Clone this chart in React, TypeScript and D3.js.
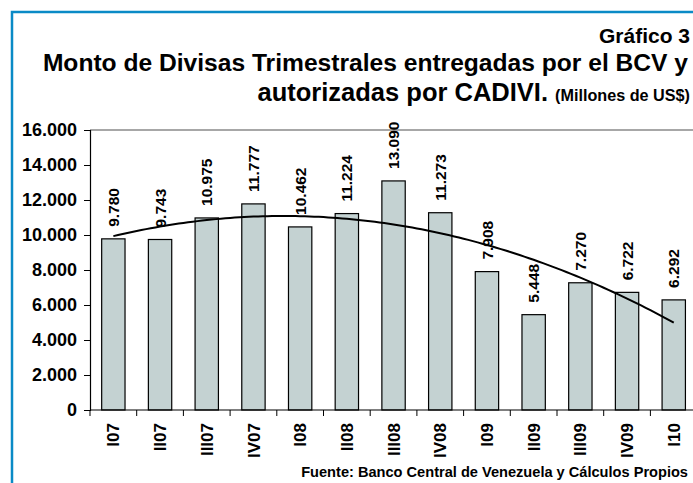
import * as d3 from "d3";
import { useEffect, useRef } from "react";

const quarters = ["I07", "II07", "III07", "IV07", "I08", "II08", "III08", "IV08", "I09", "II09", "III09", "IV09", "I10"];
const montos = [9780, 9743, 10975, 11777, 10462, 11224, 13090, 11273, 7908, 5448, 7270, 6722, 6292];
const yTicks = [0, 2000, 4000, 6000, 8000, 10000, 12000, 14000, 16000];

const FONT = "'Liberation Sans', Arial, Helvetica, sans-serif";

// miles con punto: 9780 -> "9.780"
const fmt = (v: number) => d3.format(",")(v).replace(/,/g, ".");

// tendencia polinomica de grado 2 (minimos cuadrados), como la de Excel
function quadFit(ys: number[]) {
  let s0 = 0, s1 = 0, s2 = 0, s3 = 0, s4 = 0, sy = 0, sxy = 0, sxxy = 0;
  ys.forEach((y, x) => {
    s0 += 1; s1 += x; s2 += x * x; s3 += x * x * x; s4 += x * x * x * x;
    sy += y; sxy += x * y; sxxy += x * x * y;
  });
  const m = [
    [s0, s1, s2, sy],
    [s1, s2, s3, sxy],
    [s2, s3, s4, sxxy],
  ];
  for (let c = 0; c < 3; c++) {
    for (let r = c + 1; r < 3; r++) {
      const f = m[r][c] / m[c][c];
      for (let k = c; k < 4; k++) m[r][k] -= f * m[c][k];
    }
  }
  const coef = [0, 0, 0];
  for (let r = 2; r >= 0; r--) {
    let s = m[r][3];
    for (let k = r + 1; k < 3; k++) s -= m[r][k] * coef[k];
    coef[r] = s / m[r][r];
  }
  return (x: number) => coef[0] + coef[1] * x + coef[2] * x * x;
}

const Chart = () => {
  const ref = useRef<SVGSVGElement>(null);

  useEffect(() => {
    const svg = d3.select(ref.current);
    svg.selectAll("*").remove();

    const left = 90, top = 130, bottom = 410;
    const step = 46.7;
    const right = left + step * quarters.length;

    const xOuter = d3.scaleBand().domain(quarters).range([left, right]);
    const xBar = d3.scaleBand().domain(quarters).range([left, right]).paddingInner(0.5).paddingOuter(0.25);
    const y = d3.scaleLinear().domain([0, 16000]).range([bottom, top]);

    // marco azul
    svg.append("path")
      .attr("d", `M12,483 L12,12 L700,12`)
      .attr("fill", "none")
      .attr("stroke", "#0a8ac6")
      .attr("stroke-width", 2.5);

    // titulos
    svg.append("text")
      .attr("x", 690).attr("y", 43)
      .attr("text-anchor", "end")
      .attr("font-size", 21).attr("font-weight", "bold")
      .text("Gráfico 3");

    svg.append("text")
      .attr("x", 688).attr("y", 71)
      .attr("text-anchor", "end")
      .attr("font-size", 24.6).attr("font-weight", "bold")
      .text("Monto de Divisas Trimestrales entregadas por el BCV y");

    const t2 = svg.append("text")
      .attr("x", 690).attr("y", 101)
      .attr("text-anchor", "end")
      .attr("font-weight", "bold");
    t2.append("tspan").attr("font-size", 25.5).text("autorizadas por CADIVI. ");
    t2.append("tspan").attr("font-size", 16.2).text("(Millones de US$)");

    // borde superior del area de grafico
    svg.append("line")
      .attr("x1", left).attr("x2", 700)
      .attr("y1", top).attr("y2", top)
      .attr("stroke", "#8a8a8a").attr("stroke-width", 1.5);

    // barras
    svg.append("g").selectAll("rect")
      .data(montos)
      .join("rect")
      .attr("x", (d, i) => xBar(quarters[i])!)
      .attr("y", (d) => y(d))
      .attr("width", xBar.bandwidth())
      .attr("height", (d) => y(0) - y(d))
      .attr("fill", "#c4d2d2")
      .attr("stroke", "#000")
      .attr("stroke-width", 1.2);

    // etiquetas de valor
    svg.append("g").selectAll("text")
      .data(montos)
      .join("text")
      .attr("transform", (d, i) => `translate(${xOuter(quarters[i])! + xOuter.bandwidth() / 2},${y(d) - 12}) rotate(-90)`)
      .attr("dy", "0.36em")
      .attr("font-size", 15.5).attr("font-weight", "bold")
      .text((d) => fmt(d));

    // linea de tendencia
    const fit = quadFit(montos);
    const xi = d3.scaleLinear()
      .domain([0, quarters.length - 1])
      .range([xOuter(quarters[0])! + xOuter.bandwidth() / 2, xOuter(quarters[quarters.length - 1])! + xOuter.bandwidth() / 2]);
    const pts = d3.range(0, quarters.length - 1 + 0.001, 0.1);
    svg.append("path")
      .datum(pts)
      .attr("d", d3.line<number>().x((t) => xi(t)).y((t) => y(fit(t))))
      .attr("fill", "none")
      .attr("stroke", "#000")
      .attr("stroke-width", 2);

    // eje Y
    const yAxis = svg.append("g")
      .attr("transform", `translate(${left},0)`)
      .call(d3.axisLeft(y).tickValues(yTicks).tickSize(6).tickPadding(7).tickFormat((d) => fmt(+d)));
    yAxis.select(".domain").attr("stroke", "#000").attr("stroke-width", 1.2);
    yAxis.selectAll(".tick line").attr("stroke", "#000");
    yAxis.selectAll(".tick text")
      .attr("font-size", 18).attr("font-weight", "bold").attr("font-family", FONT).attr("fill", "#000");

    // eje X
    const xAxis = svg.append("g").attr("transform", `translate(0,${bottom})`);
    xAxis.append("line")
      .attr("x1", left).attr("x2", 700)
      .attr("stroke", "#000").attr("stroke-width", 1.2);
    xAxis.selectAll(".xt")
      .data(quarters)
      .join("line")
      .attr("class", "xt")
      .attr("x1", (d) => xOuter(d)!).attr("x2", (d) => xOuter(d)!)
      .attr("y1", 0).attr("y2", 6)
      .attr("stroke", "#000");
    xAxis.selectAll(".xl")
      .data(quarters)
      .join("text")
      .attr("class", "xl")
      .attr("transform", (d) => `translate(${xOuter(d)! + xOuter.bandwidth() / 2},13) rotate(-90)`)
      .attr("text-anchor", "end")
      .attr("dy", "0.36em")
      .attr("font-size", 17).attr("font-weight", "bold")
      .text((d) => d);

    // fuente
    svg.append("text")
      .attr("x", 688).attr("y", 477)
      .attr("text-anchor", "end")
      .attr("font-size", 14.6).attr("font-weight", "bold")
      .text("Fuente: Banco Central de Venezuela y Cálculos Propios");
  }, []);

  return (
    <svg
      ref={ref}
      width={693}
      height={483}
      style={{ position: "absolute", left: 0, top: 0, background: "#fff" }}
      fontFamily={FONT}
    />
  );
};

export default function App() {
  return <Chart />;
}
